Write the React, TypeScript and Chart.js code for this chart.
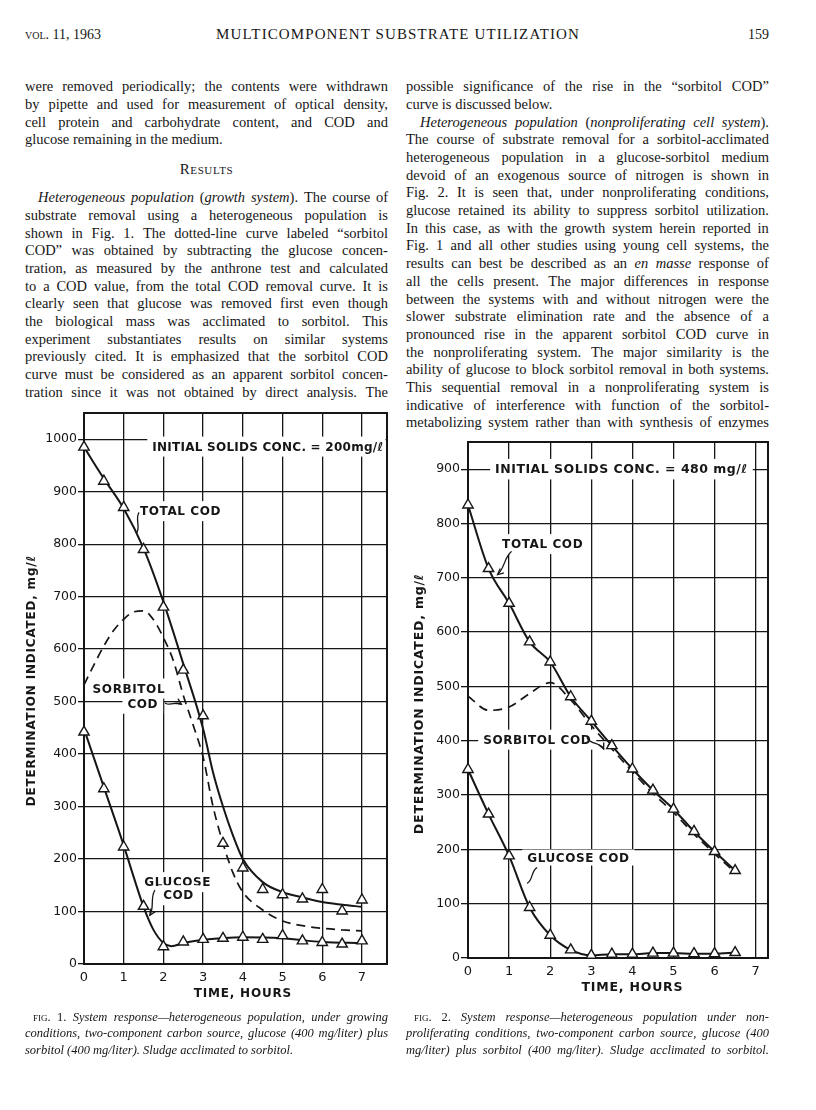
import React, { useEffect, useRef } from "react";
import { Chart, registerables } from "chart.js";

Chart.register(...registerables);

// ---------------- Fig. 1 data (growth system) ----------------
const fig1Hours = [0, 0.5, 1, 1.5, 2, 2.5, 3, 3.5, 4, 4.5, 5, 5.5, 6, 6.5, 7];
const fig1TotalPoints = [985, 920, 870, 790, 680, 560, 473, 230, 183, 142, 132, 124, 142, 101, 122];
const fig1GlucosePoints = [442, 334, 223, 110, 33, 42, 47, 49, 51, 47, 54, 44, 41, 38, 44];
const fig1TotalCurveHours = [0, 0.5, 1, 1.5, 2, 2.5, 3, 3.25, 3.5, 3.75, 4, 4.5, 5, 5.5, 6, 6.5, 7];
const fig1TotalCurve = [985, 925, 868, 792, 690, 572, 448, 365, 300, 245, 200, 156, 137, 127, 118, 113, 109];
const fig1GlucoseCurveHours = [0, 0.5, 1, 1.25, 1.5, 1.75, 2, 2.2, 2.5, 3, 4, 5, 6, 7];
const fig1GlucoseCurve = [448, 337, 226, 166, 109, 65, 40, 34, 40, 46, 51, 49, 42, 40];
const fig1SorbitolHours = [0, 0.25, 0.5, 0.75, 1, 1.25, 1.5, 1.75, 2, 2.25, 2.5, 2.75, 3, 3.25, 3.5, 3.75, 4, 4.5, 5, 5.5, 6, 6.5, 7];
const fig1SorbitolCurve = [532, 570, 606, 636, 657, 671, 673, 656, 622, 578, 512, 455, 394, 300, 230, 174, 137, 103, 82, 73, 68, 65, 63];

// ---------------- Fig. 2 data (nonproliferating system) ----------------
const fig2Hours = [0, 0.5, 1, 1.5, 2, 2.5, 3, 3.5, 4, 4.5, 5, 5.5, 6, 6.5];
const fig2Total = [834, 717, 653, 582, 545, 481, 436, 391, 348, 309, 274, 233, 196, 161];
const fig2Sorbitol = [482, 456, 462, 487, 507, 475, 428, 385, 343, 303, 268, 228, 192, 158];
const fig2Glucose = [347, 265, 188, 93, 42, 15, 5, 7, 7, 9, 9, 8, 8, 10];

// ---------------- axis ticks ----------------
const hourStep = 1;
const valueStep = 100;
const fig1XMax = 7.63;
const fig1YMax = 1050;
const fig2XMax = 7.3;
const fig2YMax = 950;

// ---------------- chart texts ----------------
const xTitleText = "TIME, HOURS";
const yTitleText = "DETERMINATION INDICATED, mg/\u2113";
const fig1Solids = "INITIAL SOLIDS CONC. = 200mg/\u2113";
const fig2Solids = "INITIAL SOLIDS CONC. = 480 mg/\u2113";

// ---------------- page texts ----------------
const headerLeft = "^vol.^ 11, 1963";
const headerCenter = "MULTICOMPONENT SUBSTRATE UTILIZATION";
const headerRight = "159";

const leftColumnTop = [
  "were removed periodically; the contents were withdrawn",
  "by pipette and used for measurement of optical density,",
  "cell protein and carbohydrate content, and COD and",
  "glucose remaining in the medium.|",
];
const resultsHeading = "Results";
const leftColumnBottom = [
  ">*Heterogeneous population* (*growth system*). The course of",
  "substrate removal using a heterogeneous population is",
  "shown in Fig. 1. The dotted-line curve labeled \u201csorbitol",
  "COD\u201d was obtained by subtracting the glucose concen-",
  "tration, as measured by the anthrone test and calculated",
  "to a COD value, from the total COD removal curve. It is",
  "clearly seen that glucose was removed first even though",
  "the biological mass was acclimated to sorbitol. This",
  "experiment substantiates results on similar systems",
  "previously cited. It is emphasized that the sorbitol COD",
  "curve must be considered as an apparent sorbitol concen-",
  "tration since it was not obtained by direct analysis. The",
];
const rightColumn = [
  "possible significance of the rise in the \u201csorbitol COD\u201d",
  "curve is discussed below.|",
  ">*Heterogeneous population* (*nonproliferating cell system*).",
  "The course of substrate removal for a sorbitol-acclimated",
  "heterogeneous population in a glucose-sorbitol medium",
  "devoid of an exogenous source of nitrogen is shown in",
  "Fig. 2. It is seen that, under nonproliferating conditions,",
  "glucose retained its ability to suppress sorbitol utilization.",
  "In this case, as with the growth system herein reported in",
  "Fig. 1 and all other studies using young cell systems, the",
  "results can best be described as an *en masse* response of",
  "all the cells present. The major differences in response",
  "between the systems with and without nitrogen were the",
  "slower substrate elimination rate and the absence of a",
  "pronounced rise in the apparent sorbitol COD curve in",
  "the nonproliferating system. The major similarity is the",
  "ability of glucose to block sorbitol removal in both systems.",
  "This sequential removal in a nonproliferating system is",
  "indicative of interference with function of the sorbitol-",
  "metabolizing system rather than with synthesis of enzymes",
];
const fig1Caption = [
  ">^fig.^ 1. *System response\u2014heterogeneous population, under growing*",
  "*conditions, two-component carbon source, glucose (400 mg/liter) plus*",
  "*sorbitol (400 mg/liter). Sludge acclimated to sorbitol.*|",
];
const fig2Caption = [
  ">^fig.^ 2. *System response\u2014heterogeneous population under non-*",
  "*proliferating conditions, two-component carbon source, glucose (400*",
  "*mg/liter) plus sorbitol (400 mg/liter). Sludge acclimated to sorbitol.*",
];

// ---------------- styling ----------------
const INK = "#161616";
const SANS = '"DejaVu Sans", sans-serif';
const SERIF = '"Liberation Serif", "DejaVu Serif", serif';
Chart.defaults.font.family = SANS;

type Pt = { x: number; y: number };
const zip = (xs: number[], ys: number[]): Pt[] => xs.map((x, i) => ({ x, y: ys[i] }));

interface Ann {
  text: string;
  x: number;
  y: number;
  align?: "left" | "center";
  size?: number;
  spacing?: number;
  padX?: number;
  padY?: number;
}
interface Leader {
  from: [number, number];
  to: [number, number];
  bend: number;
  arrow?: boolean;
}
interface Decor {
  labels: Ann[];
  leaders: Leader[];
  xTitleAt: number;
  xTitleGap: number;
  yTitleAt: number;
  yTitleGap: number;
  titleSize: number;
}

function makeDecor(d: Decor) {
  return {
    id: "decor",
    beforeDatasetsDraw(chart: any) {
      const { ctx, chartArea: a, scales } = chart;
      const xs = scales.x;
      const ys = scales.y;
      ctx.save();
      for (const l of d.labels) {
        const size = l.size ?? 12;
        ctx.font = `bold ${size}px ${SANS}`;
        ctx.letterSpacing = `${l.spacing ?? 0.6}px`;
        const w = ctx.measureText(l.text).width;
        const px = xs.getPixelForValue(l.x);
        const py = ys.getPixelForValue(l.y);
        const left = l.align === "center" ? px - w / 2 : px;
        const padX = l.padX ?? 5;
        const padY = l.padY ?? 4;
        const bx0 = Math.max(a.left + 1.5, left - padX);
        const bx1 = Math.min(a.right - 1.5, left + w + padX);
        ctx.fillStyle = "#fff";
        ctx.fillRect(bx0, py - size / 2 - padY, bx1 - bx0, size + 2 * padY);
        ctx.fillStyle = INK;
        ctx.textAlign = "left";
        ctx.textBaseline = "middle";
        ctx.fillText(l.text, left, py + 1);
      }
      ctx.letterSpacing = "0px";
      ctx.strokeStyle = INK;
      ctx.lineWidth = 2;
      ctx.strokeRect(a.left, a.top, a.right - a.left, a.bottom - a.top);
      ctx.restore();
    },
    afterDatasetsDraw(chart: any) {
      const { ctx, scales } = chart;
      const xs = scales.x;
      const ys = scales.y;
      ctx.save();
      ctx.strokeStyle = INK;
      ctx.lineWidth = 1.3;
      ctx.lineCap = "round";
      for (const L of d.leaders) {
        const x1 = xs.getPixelForValue(L.from[0]);
        const y1 = ys.getPixelForValue(L.from[1]);
        const x2 = xs.getPixelForValue(L.to[0]);
        const y2 = ys.getPixelForValue(L.to[1]);
        const dx = x2 - x1;
        const dy = y2 - y1;
        const len = Math.hypot(dx, dy) || 1;
        const nx = -dy / len;
        const ny = dx / len;
        const c1x = x1 + dx * 0.33 + nx * L.bend;
        const c1y = y1 + dy * 0.33 + ny * L.bend;
        const c2x = x1 + dx * 0.67 - nx * L.bend;
        const c2y = y1 + dy * 0.67 - ny * L.bend;
        ctx.beginPath();
        ctx.moveTo(x1, y1);
        ctx.bezierCurveTo(c1x, c1y, c2x, c2y, x2, y2);
        ctx.stroke();
        if (L.arrow) {
          const ang = Math.atan2(y2 - c2y, x2 - c2x);
          ctx.beginPath();
          ctx.moveTo(x2 - 6 * Math.cos(ang - 0.45), y2 - 6 * Math.sin(ang - 0.45));
          ctx.lineTo(x2, y2);
          ctx.lineTo(x2 - 6 * Math.cos(ang + 0.45), y2 - 6 * Math.sin(ang + 0.45));
          ctx.stroke();
        }
      }
      ctx.restore();
    },
    afterDraw(chart: any) {
      const { ctx, chartArea: a, scales } = chart;
      ctx.save();
      ctx.fillStyle = INK;
      ctx.font = `bold ${d.titleSize}px ${SANS}`;
      ctx.letterSpacing = "0.8px";
      ctx.textAlign = "center";
      ctx.textBaseline = "middle";
      ctx.fillText(xTitleText, scales.x.getPixelForValue(d.xTitleAt), a.bottom + d.xTitleGap);
      ctx.translate(a.left - d.yTitleGap, scales.y.getPixelForValue(d.yTitleAt));
      ctx.rotate(-Math.PI / 2);
      ctx.fillText(yTitleText, 0, 0);
      ctx.restore();
    },
  };
}

interface Spec {
  xMax: number;
  yMax: number;
  padTop: number;
  padRight: number;
  yAxisWidth: number;
  xAxisHeight: number;
  yTickLength: number;
  datasets: any[];
  decor: Decor;
}

function buildConfig(s: Spec): any {
  return {
    type: "line",
    data: { datasets: s.datasets },
    options: {
      responsive: false,
      maintainAspectRatio: false,
      animation: false,
      events: [],
      layout: { padding: { top: s.padTop, right: s.padRight, left: 0, bottom: 0 } },
      plugins: { legend: { display: false }, tooltip: { enabled: false } },
      scales: {
        x: {
          type: "linear",
          min: 0,
          max: s.xMax,
          afterFit: (sc: any) => {
            sc.height = s.xAxisHeight;
          },
          ticks: {
            stepSize: hourStep,
            includeBounds: false,
            autoSkip: false,
            maxRotation: 0,
            padding: 6,
            color: INK,
            font: { family: SANS, size: 13 },
            callback: (v: any) => String(v),
          },
          grid: { color: INK, lineWidth: 1.3, drawTicks: false },
          border: { color: INK, width: 2 },
        },
        y: {
          type: "linear",
          min: 0,
          max: s.yMax,
          afterFit: (sc: any) => {
            sc.width = s.yAxisWidth;
          },
          ticks: {
            stepSize: valueStep,
            includeBounds: false,
            autoSkip: false,
            padding: 1,
            color: INK,
            font: { family: SANS, size: 12.5 },
            callback: (v: any) => String(v),
          },
          grid: { color: INK, lineWidth: 1.3, drawTicks: true, tickLength: s.yTickLength },
          border: { color: INK, width: 2 },
        },
      },
    },
    plugins: [makeDecor(s.decor)],
  };
}

const markerStyle = {
  showLine: false,
  pointStyle: "triangle",
  pointRadius: 6,
  pointBackgroundColor: "#fff",
  pointBorderColor: INK,
  pointBorderWidth: 1.4,
  borderColor: INK,
  clip: false,
};
const solidStyle = {
  borderColor: INK,
  borderWidth: 2,
  pointRadius: 0,
  cubicInterpolationMode: "monotone",
  fill: false,
};
const dashedStyle = { ...solidStyle, borderWidth: 1.7, borderDash: [9, 6] };

function fig1Config() {
  return buildConfig({
    xMax: fig1XMax,
    yMax: fig1YMax,
    padTop: 13,
    padRight: 13,
    yAxisWidth: 84,
    xAxisHeight: 56,
    yTickLength: 6,
    datasets: [
      { ...markerStyle, data: zip(fig1Hours, fig1TotalPoints) },
      { ...markerStyle, data: zip(fig1Hours, fig1GlucosePoints) },
      { ...solidStyle, data: zip(fig1TotalCurveHours, fig1TotalCurve) },
      { ...solidStyle, data: zip(fig1GlucoseCurveHours, fig1GlucoseCurve) },
      { ...dashedStyle, data: zip(fig1SorbitolHours, fig1SorbitolCurve) },
    ],
    decor: {
      labels: [
        { text: fig1Solids, x: 1.72, y: 986, spacing: 0.25 },
        { text: "TOTAL COD", x: 1.41, y: 863 },
        { text: "SORBITOL", x: 1.13, y: 525, align: "center" },
        { text: "COD", x: 1.48, y: 496, align: "center" },
        { text: "GLUCOSE", x: 2.36, y: 156, align: "center" },
        { text: "COD", x: 2.38, y: 131, align: "center" },
      ],
      leaders: [
        { from: [1.38, 860], to: [1.33, 822], bend: 3 },
        { from: [2.05, 497], to: [2.45, 495], bend: 3, arrow: true },
        { from: [1.78, 140], to: [1.66, 93], bend: 3, arrow: true },
      ],
      xTitleAt: 4,
      xTitleGap: 30,
      yTitleAt: 540,
      yTitleGap: 52,
      titleSize: 12,
    },
  });
}

function fig2Config() {
  return buildConfig({
    xMax: fig2XMax,
    yMax: fig2YMax,
    padTop: 12,
    padRight: 14,
    yAxisWidth: 68,
    xAxisHeight: 62,
    yTickLength: 7,
    datasets: [
      { ...markerStyle, data: zip(fig2Hours, fig2Total) },
      { ...markerStyle, data: zip(fig2Hours, fig2Glucose) },
      { ...solidStyle, data: zip(fig2Hours, fig2Total) },
      { ...solidStyle, data: zip(fig2Hours, fig2Glucose) },
      { ...dashedStyle, data: zip(fig2Hours, fig2Sorbitol) },
    ],
    decor: {
      labels: [
        { text: fig2Solids, x: 0.66, y: 900, size: 12.5, spacing: 0.5 },
        { text: "TOTAL COD", x: 0.83, y: 762 },
        { text: "SORBITOL COD", x: 0.37, y: 402 },
        { text: "GLUCOSE COD", x: 1.44, y: 185, padY: 2 },
      ],
      leaders: [
        { from: [1.05, 748], to: [0.72, 706], bend: 3, arrow: true },
        { from: [2.9, 405], to: [3.3, 385], bend: 4, arrow: true },
        { from: [1.67, 166], to: [1.45, 138], bend: 3 },
      ],
      xTitleAt: 4,
      xTitleGap: 30,
      yTitleAt: 468,
      yTitleGap: 48,
      titleSize: 12.5,
    },
  });
}

function FigureCanvas(props: { left: number; top: number; width: number; height: number; config: () => any }) {
  const ref = useRef<HTMLCanvasElement | null>(null);
  useEffect(() => {
    if (!ref.current) return;
    const chart = new Chart(ref.current, props.config());
    return () => chart.destroy();
  }, []);
  return (
    <canvas
      ref={ref}
      width={props.width}
      height={props.height}
      style={{ position: "absolute", left: props.left, top: props.top, width: props.width, height: props.height }}
    />
  );
}

// ---------------- text rendering ----------------
type Seg = { t: string; i: boolean; sc: boolean };
function parseWords(line: string): Seg[][] {
  const words: Seg[][] = [];
  let italic = false;
  let sc = false;
  for (const raw of line.split(" ")) {
    const segs: Seg[] = [];
    let buf = "";
    for (const ch of raw) {
      if (ch === "*" || ch === "^") {
        if (buf) segs.push({ t: buf, i: italic, sc });
        buf = "";
        if (ch === "*") italic = !italic;
        else sc = !sc;
      } else buf += ch;
    }
    if (buf) segs.push({ t: buf, i: italic, sc });
    words.push(segs);
  }
  return words;
}

function Word({ segs }: { segs: Seg[] }) {
  return (
    <span>
      {segs.map((s, k) => (
        <span key={k} style={{ fontStyle: s.i ? "italic" : "normal", fontVariant: s.sc ? "small-caps" : "normal" }}>
          {s.t}
        </span>
      ))}
    </span>
  );
}

function TextLine(props: { text: string; x: number; y: number; width: number; indent: number; size: number; lh: number }) {
  let text = props.text;
  const indented = text.startsWith(">");
  const last = text.endsWith("|");
  if (indented) text = text.slice(1);
  if (last) text = text.slice(0, -1);
  const words = parseWords(text);
  const x = props.x + (indented ? props.indent : 0);
  const w = props.width - (indented ? props.indent : 0);
  const base: React.CSSProperties = {
    position: "absolute",
    left: x,
    top: props.y - props.lh / 2,
    width: w,
    height: props.lh,
    lineHeight: `${props.lh}px`,
    fontFamily: SERIF,
    fontSize: props.size,
    color: INK,
    whiteSpace: "nowrap",
  };
  if (!last) {
    return (
      <div style={{ ...base, display: "flex", justifyContent: "space-between" }}>
        {words.map((wd, k) => (
          <Word key={k} segs={wd} />
        ))}
      </div>
    );
  }
  return (
    <div style={base}>
      {words.map((wd, k) => (
        <React.Fragment key={k}>
          {k > 0 ? " " : ""}
          <Word segs={wd} />
        </React.Fragment>
      ))}
    </div>
  );
}

export default function App() {
  const colW = 363;
  const leftX = 25;
  const rightX = 406;
  const lh = 17.7;
  const bodySize = 14.5;
  const firstLine = 87;
  const resultsY = 169;
  const leftBottomStart = 198;
  const capY = 1017;
  const capLh = 16.8;
  const capSize = 12.5;

  return (
    <div style={{ position: "absolute", left: 0, top: 0, width: 816, height: 1110, background: "#fff", overflow: "hidden" }}>
      {/* running head */}
      <div style={{ position: "absolute", left: leftX, top: 27, fontFamily: SERIF, fontSize: 14, color: INK, whiteSpace: "nowrap" }}>
        {parseWords(headerLeft).map((wd, k) => (
          <React.Fragment key={k}>
            {k > 0 ? " " : ""}
            <Word segs={wd} />
          </React.Fragment>
        ))}
      </div>
      <div
        style={{
          position: "absolute",
          left: 0,
          width: 796,
          top: 26,
          textAlign: "center",
          fontFamily: SERIF,
          fontSize: 15,
          letterSpacing: "1.1px",
          color: INK,
          whiteSpace: "nowrap",
        }}
      >
        {headerCenter}
      </div>
      <div style={{ position: "absolute", left: 700, width: 69, top: 27, textAlign: "right", fontFamily: SERIF, fontSize: 14, color: INK }}>
        {headerRight}
      </div>

      {/* left column */}
      {leftColumnTop.map((t, i) => (
        <TextLine key={"lt" + i} text={t} x={leftX} y={firstLine + i * lh} width={colW} indent={13} size={bodySize} lh={lh} />
      ))}
      <div
        style={{
          position: "absolute",
          left: leftX,
          width: colW,
          top: resultsY - 9,
          lineHeight: "18px",
          textAlign: "center",
          fontFamily: SERIF,
          fontSize: 15,
          fontVariant: "small-caps",
          letterSpacing: "0.6px",
          color: INK,
        }}
      >
        {resultsHeading}
      </div>
      {leftColumnBottom.map((t, i) => (
        <TextLine key={"lb" + i} text={t} x={leftX} y={leftBottomStart + i * lh} width={colW} indent={13} size={bodySize} lh={lh} />
      ))}

      {/* right column */}
      {rightColumn.map((t, i) => (
        <TextLine key={"r" + i} text={t} x={rightX} y={firstLine + i * lh} width={colW} indent={14} size={bodySize} lh={lh} />
      ))}

      {/* figures */}
      <FigureCanvas left={0} top={400} width={400} height={620} config={fig1Config} />
      <FigureCanvas left={400} top={430} width={382} height={590} config={fig2Config} />

      {/* captions */}
      {fig1Caption.map((t, i) => (
        <TextLine key={"c1" + i} text={t} x={leftX} y={capY + i * capLh} width={colW} indent={8} size={capSize} lh={capLh} />
      ))}
      {fig2Caption.map((t, i) => (
        <TextLine key={"c2" + i} text={t} x={rightX} y={capY + i * capLh} width={colW} indent={8} size={capSize} lh={capLh} />
      ))}
    </div>
  );
}
